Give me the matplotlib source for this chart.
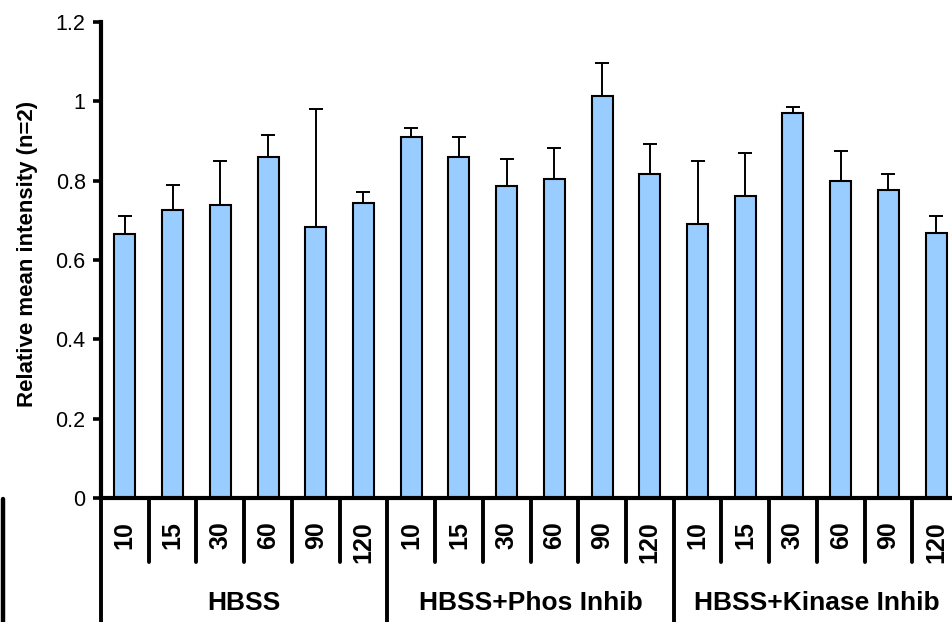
import matplotlib
matplotlib.use("Agg")
import matplotlib.pyplot as plt
import matplotlib.transforms as mtrans
import numpy as np

plt.rcParams['font.family'] = ['Liberation Sans', 'DejaVu Sans']

groups = ["HBSS", "HBSS+Phos Inhib", "HBSS+Kinase Inhib"]
times = ["10", "15", "30", "60", "90", "120"]

# mean intensity per group, one value per time point
hbss = [0.665, 0.725, 0.739, 0.860, 0.683, 0.743]
phos = [0.911, 0.860, 0.786, 0.805, 1.013, 0.818]
kinase = [0.692, 0.761, 0.971, 0.800, 0.776, 0.669]

# upper error (top of bar to top of whisker)
hbss_err = [0.046, 0.064, 0.111, 0.056, 0.298, 0.028]
phos_err = [0.023, 0.050, 0.069, 0.077, 0.084, 0.074]
kinase_err = [0.158, 0.109, 0.015, 0.075, 0.042, 0.042]

vals = hbss + phos + kinase
errs = hbss_err + phos_err + kinase_err
labels = times * len(groups)
x = np.arange(len(vals))

W, H = 952, 622
fig = plt.figure(figsize=(W / 100, H / 100), dpi=100)
ax = fig.add_axes([101 / W, 1 - 498 / H, (960 - 101) / W, (498 - 22) / H])

ax.bar(x, vals, width=0.44, color="#99CCFF", edgecolor="black", linewidth=1.5, zorder=2)
ax.errorbar(x, vals, yerr=[np.zeros(len(vals)), errs], fmt="none", ecolor="black",
            elinewidth=1.4, capsize=5, capthick=1.4, zorder=3)

ax.set_xlim(-0.5, len(vals) - 0.5)
ax.set_ylim(0, 1.2)
ax.set_yticks(np.arange(0, 1.21, 0.2))
ax.set_yticklabels(["0", "0.2", "0.4", "0.6", "0.8", "1", "1.2"], fontsize=15.5)
ax.tick_params(axis="y", length=6, width=2.6, pad=5, direction="out")
ax.set_xticks([])
for s in ["top", "right"]:
    ax.spines[s].set_visible(False)
ax.spines["left"].set_linewidth(3)
ax.spines["bottom"].set_linewidth(3)
ax.set_ylabel("Relative mean intensity (n=2)", fontsize=16, fontweight="bold")
ax.yaxis.set_label_coords(-63 / 859, 0.513)

# category table under the axis
tr = mtrans.blended_transform_factory(ax.transData, fig.transFigure)
y0 = 1 - 498 / H
y_short = 1 - 562 / H
for i in range(len(vals) + 1):
    pos = i - 0.5
    if i % len(times) == 0:
        fig.add_artist(plt.Line2D([pos, pos], [y0, 0], transform=tr, color="black",
                                  linewidth=2.8, solid_capstyle="round"))
    else:
        fig.add_artist(plt.Line2D([pos, pos], [y0, y_short], transform=tr, color="black",
                                  linewidth=2.8, solid_capstyle="round"))
for i, lab in enumerate(labels):
    fig.text(x[i], 1 - 521 / H, lab, transform=tr, rotation=90, ha="center", va="top",
             fontsize=18, fontweight="bold")
for g, name in enumerate(groups):
    cx = g * len(times) + (len(times) - 1) / 2
    fig.text(cx, 1 - 603 / H, name, transform=tr, ha="center", va="center",
             fontsize=19, fontweight="bold")

fig.add_artist(plt.Line2D([3 / W, 3 / W], [1 - 499 / H, 0], transform=fig.transFigure,
                          color="black", linewidth=3.2, solid_capstyle="round"))

fig.savefig("out.png", dpi=100)
